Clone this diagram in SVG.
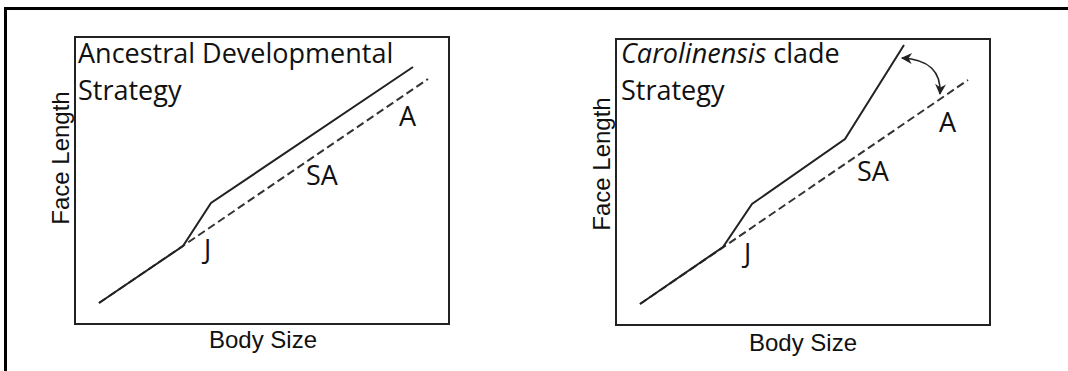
<svg xmlns="http://www.w3.org/2000/svg" width="1068" height="371" viewBox="0 0 1068 371">
  <style>
    .frame { fill: none; stroke: #000; stroke-width: 3; }
    .panel { fill: #fff; stroke: #222; stroke-width: 2; }
    .solid { fill: none; stroke: #222; stroke-width: 2; stroke-linejoin: miter; }
    .dash { fill: none; stroke: #333; stroke-width: 2; stroke-dasharray: 8 4; }
    .title { font-family: "Open Sans", "Liberation Sans", sans-serif; font-size: 27px; fill: #111; }
    .lbl { font-family: "Open Sans", "Liberation Sans", sans-serif; font-size: 27px; fill: #111; }
    .axis { font-family: "Liberation Sans", Arial, sans-serif; font-size: 24px; fill: #111; }
    .arc { fill: none; stroke: #222; stroke-width: 1.6; }
  </style>
  <defs>
    <marker id="ah" viewBox="0 0 10 10" refX="9" refY="5" markerWidth="12" markerHeight="11" markerUnits="userSpaceOnUse" orient="auto-start-reverse">
      <path d="M0,0 L10,5 L0,10 L3,5 Z" fill="#222"/>
    </marker>
  </defs>
  <rect width="1068" height="371" fill="#fff"/>
  <path class="frame" d="M5.5 371 V8.5 H1068"/>

  <g id="panel-ancestral">
    <rect class="panel" x="75" y="37" width="374" height="287"/>
    <text class="title" x="78" y="63">Ancestral Developmental</text>
    <text class="title" x="78" y="100">Strategy</text>
    <text class="axis" transform="translate(69,158) rotate(-90)" text-anchor="middle">Face Length</text>
    <text class="axis" x="263" y="348" text-anchor="middle">Body Size</text>
    <text class="lbl" x="204" y="259">J</text>
    <text class="lbl" x="306" y="185">SA</text>
    <text class="lbl" x="399" y="126">A</text>
  </g>

  <g id="panel-carolinensis">
    <rect class="panel" x="616" y="39" width="374" height="286"/>
    <text class="title" x="621" y="63"><tspan font-style="italic">Carolinensis</tspan> clade</text>
    <text class="title" x="621" y="100">Strategy</text>
    <text class="axis" transform="translate(610,164) rotate(-90)" text-anchor="middle">Face Length</text>
    <text class="axis" x="803" y="351" text-anchor="middle">Body Size</text>
    <text class="lbl" x="744" y="263">J</text>
    <text class="lbl" x="857" y="181">SA</text>
    <text class="lbl" x="939" y="132">A</text>
  </g>

  <g id="connectors">
    <path class="dash" d="M99 303 L428 79"/>
    <path class="solid" d="M99 303 L183 246 L211 203 L413 67"/>
    <path class="dash" d="M640 304 L968 80"/>
    <path class="solid" d="M640 304 L723 247 L752 204 L845 139 L904 45"/>
    <path class="arc" d="M902 58 Q942 60 940 94" marker-start="url(#ah)" marker-end="url(#ah)"/>
  </g>
</svg>
